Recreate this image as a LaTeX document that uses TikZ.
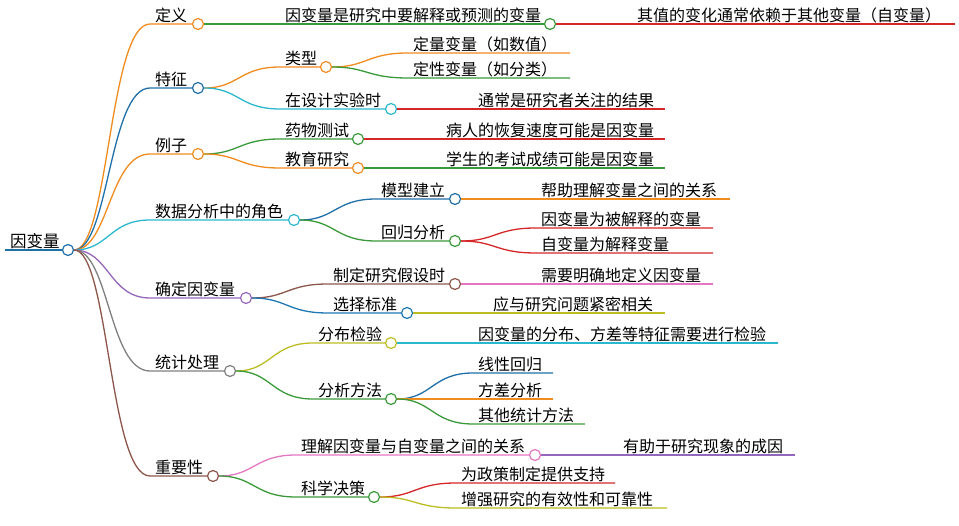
\documentclass[tikz,border=0pt]{standalone}
\usepackage{fontspec}
\setmainfont{Noto Sans CJK SC}
\definecolor{cor}{HTML}{F08C1F}
\definecolor{cdb}{HTML}{1F6FA8}
\definecolor{ccy}{HTML}{2CB8CC}
\definecolor{cgr}{HTML}{3A9A3A}
\definecolor{cre}{HTML}{D62728}
\definecolor{cpu}{HTML}{9467BD}
\definecolor{cbr}{HTML}{8C564B}
\definecolor{cpi}{HTML}{E377C2}
\definecolor{cgy}{HTML}{7F7F7F}
\definecolor{col}{HTML}{BCBD22}
\definecolor{cbl}{HTML}{1F77B4}
\tikzset{dot/.style={circle,draw=#1,fill=white,line width=1.2pt,inner sep=0pt,minimum size=11pt},
lbl/.style={anchor=south west,inner sep=0pt,font=\fontsize{16}{18}\selectfont}}
% name parent sx ex y color text circle
\newcommand\mm[8]{%
\coordinate (#1s) at (#3,#5);
\draw[#6,line width=1.3pt] (#2) .. controls ({(#3+\px)/2},\py) and ({(#3+\px)/2},#5) .. (#1s) -- (#4,#5);
\node[lbl] (#1t) at (#3+5,#5-1) {#7};
\ifnum#8=1 \node[dot=#6] (#1) at (#4,#5) {};\fi}
\begin{document}
\begin{tikzpicture}[x=1pt,y=-1pt]
\useasboundingbox (0,0) rectangle (959,526);
\draw[cdb,line width=2.5pt] (5,250) -- (68,250);
\node[lbl,font=\fontsize{16.5}{18}\selectfont] (roott) at (10,249) {因变量};
\node[dot=cdb] (r) at (68,250) {};
\def\px{68}\def\py{250}
\mm{a}{r}{150}{198}{24}{cor}{定义}{1}
\mm{b}{r}{150}{198}{88}{cdb}{特征}{1}
\mm{c}{r}{150}{198}{154}{cor}{例子}{1}
\mm{d}{r}{150}{294}{220}{ccy}{数据分析中的角色}{1}
\mm{e}{r}{150}{246}{298}{cpu}{确定因变量}{1}
\mm{f}{r}{150}{230}{371}{cgy}{统计处理}{1}
\mm{g}{r}{150}{213}{476}{cbr}{重要性}{1}
\def\px{198}\def\py{24}
\mm{a1}{a}{280}{550}{24}{cgr}{因变量是研究中要解释或预测的变量}{1}
\def\px{550}\def\py{24}
\mm{a2}{a1}{632}{955}{24}{cre}{其值的变化通常依赖于其他变量（自变量）}{0}
\def\px{198}\def\py{88}
\mm{b1}{b}{280}{326}{67}{cor}{类型}{1}
\mm{b2}{b}{280}{391}{109}{ccy}{在设计实验时}{1}
\def\px{326}\def\py{67}
\mm{b11}{b1}{408}{570}{53}{cor}{定量变量（如数值）}{0}
\mm{b12}{b1}{408}{570}{78}{cgr}{定性变量（如分类）}{0}
\def\px{391}\def\py{109}
\mm{b21}{b2}{473}{665}{109}{cre}{通常是研究者关注的结果}{0}
\def\px{198}\def\py{154}
\mm{c1}{c}{280}{358}{139}{cgr}{药物测试}{1}
\mm{c2}{c}{280}{358}{168}{cor}{教育研究}{1}
\def\px{358}\def\py{139}
\mm{c11}{c1}{441}{665}{139}{cre}{病人的恢复速度可能是因变量}{0}
\def\px{358}\def\py{168}
\mm{c21}{c2}{441}{665}{168}{cgr}{学生的考试成绩可能是因变量}{0}
\def\px{294}\def\py{220}
\mm{d1}{d}{376}{455}{199}{cdb}{模型建立}{1}
\mm{d2}{d}{376}{455}{241}{cgr}{回归分析}{1}
\def\px{455}\def\py{199}
\mm{d11}{d1}{536}{730}{199}{cor}{帮助理解变量之间的关系}{0}
\def\px{455}\def\py{241}
\mm{d21}{d2}{536}{713}{228}{cre}{因变量为被解释的变量}{0}
\mm{d22}{d2}{536}{713}{253}{cre}{自变量为解释变量}{0}
\def\px{246}\def\py{298}
\mm{e1}{e}{328}{455}{284}{cbr}{制定研究假设时}{1}
\mm{e2}{e}{328}{407}{313}{cbl}{选择标准}{1}
\def\px{455}\def\py{284}
\mm{e11}{e1}{536}{713}{284}{cpi}{需要明确地定义因变量}{0}
\def\px{407}\def\py{313}
\mm{e21}{e2}{488}{665}{313}{col}{应与研究问题紧密相关}{0}
\def\px{230}\def\py{371}
\mm{f1}{f}{313}{391}{343}{col}{分布检验}{1}
\mm{f2}{f}{313}{391}{399}{cgr}{分析方法}{1}
\def\px{391}\def\py{343}
\mm{f11}{f1}{473}{778}{343}{ccy}{因变量的分布、方差等特征需要进行检验}{0}
\def\px{391}\def\py{399}
\mm{f21}{f2}{473}{553}{373}{cdb}{线性回归}{0}
\mm{f22}{f2}{473}{553}{399}{cor}{方差分析}{0}
\mm{f23}{f2}{473}{585}{424}{cgr}{其他统计方法}{0}
\def\px{213}\def\py{476}
\mm{g1}{g}{296}{535}{455}{cpi}{理解因变量与自变量之间的关系}{1}
\mm{g2}{g}{296}{374}{497}{cgr}{科学决策}{1}
\def\px{535}\def\py{455}
\mm{g11}{g1}{618}{795}{455}{cpu}{有助于研究现象的成因}{0}
\def\px{374}\def\py{497}
\mm{g21}{g2}{456}{615}{483}{cre}{为政策制定提供支持}{0}
\mm{g22}{g2}{456}{667}{508}{col}{增强研究的有效性和可靠性}{0}
\end{tikzpicture}
\end{document}
